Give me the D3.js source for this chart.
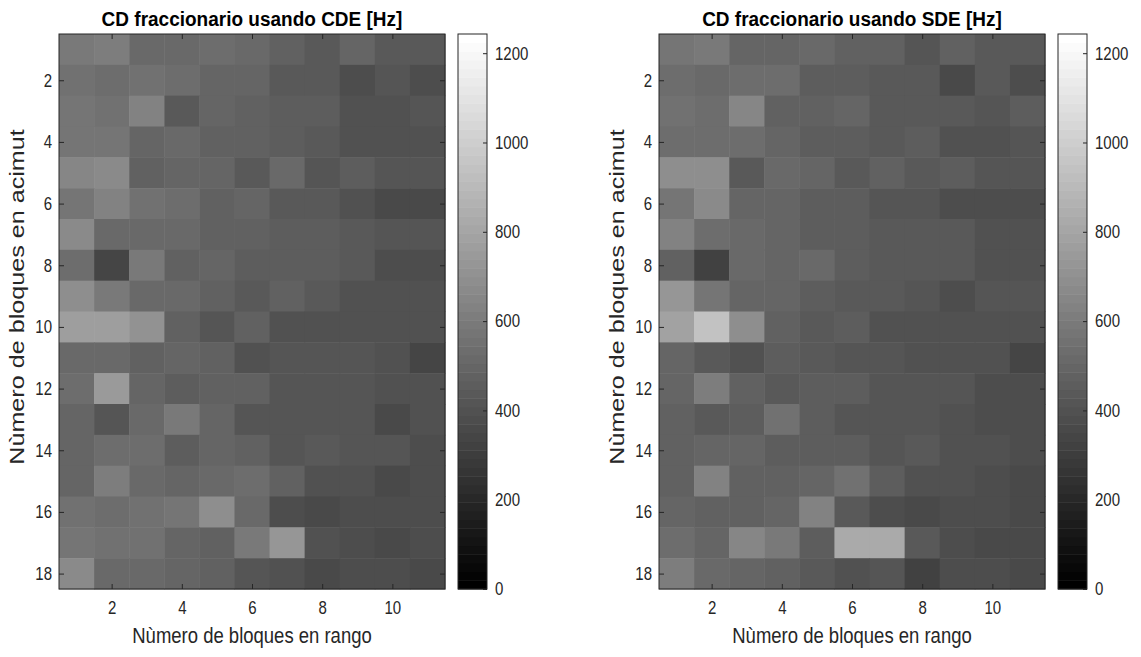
<!DOCTYPE html>
<html>
<head>
<meta charset="utf-8">
<script src="https://cdn.jsdelivr.net/npm/d3@7"></script>
<style>
  body { margin: 0; background: #fff; }
  text { font-family: "Liberation Sans", Arial, sans-serif; }
</style>
</head>
<body>
<svg id="chart" width="1141" height="657"></svg>
<script>
// columns = blocks in range, rows = blocks in azimuth
var cols = d3.range(1, 12);
var rows = d3.range(1, 19);
var xTicks = [2, 4, 6, 8, 10];
var yTicks = [2, 4, 6, 8, 10, 12, 14, 16, 18];
var cbTicks = [0, 200, 400, 600, 800, 1000, 1200];
var cMax = 1243;

var titles = ['CD fraccionario usando CDE [Hz]', 'CD fraccionario usando SDE [Hz]'];
var xLabel = 'Nùmero de bloques en rango';
var yLabel = 'Nùmero de bloques en acimut';

// CD fraccionario, CDE [Hz] (one row per azimuth block)
var cde = [
  [595, 605, 507, 507, 536, 507, 478, 429, 497, 429, 429],
  [546, 536, 556, 527, 488, 488, 439, 439, 371, 419, 380],
  [566, 556, 624, 439, 488, 478, 449, 458, 400, 400, 419],
  [566, 566, 497, 507, 478, 478, 458, 429, 400, 400, 400],
  [653, 663, 468, 497, 488, 429, 507, 419, 449, 410, 410],
  [566, 624, 546, 527, 468, 488, 439, 439, 390, 351, 361],
  [663, 507, 507, 517, 478, 478, 449, 449, 439, 410, 410],
  [536, 341, 595, 478, 497, 458, 449, 449, 429, 371, 371],
  [683, 595, 507, 517, 478, 439, 468, 439, 390, 390, 390],
  [761, 761, 702, 478, 419, 478, 400, 400, 400, 400, 400],
  [517, 517, 478, 488, 468, 390, 419, 419, 410, 400, 341],
  [527, 751, 497, 449, 478, 478, 419, 419, 419, 390, 400],
  [488, 419, 517, 585, 497, 410, 419, 419, 410, 351, 390],
  [497, 536, 536, 458, 488, 478, 419, 429, 410, 419, 380],
  [497, 614, 517, 497, 507, 527, 478, 390, 390, 361, 371],
  [556, 536, 546, 566, 692, 507, 371, 361, 371, 380, 371],
  [566, 556, 556, 488, 478, 585, 722, 400, 380, 351, 371],
  [663, 517, 507, 497, 468, 410, 390, 361, 371, 371, 351]
];

// CD fraccionario, SDE [Hz]
var sde = [
  [566, 595, 488, 497, 517, 478, 468, 419, 478, 429, 429],
  [527, 517, 527, 527, 458, 458, 429, 429, 361, 429, 380],
  [546, 527, 653, 478, 468, 497, 439, 439, 429, 419, 449],
  [536, 536, 527, 497, 458, 458, 439, 458, 390, 400, 410],
  [683, 692, 439, 517, 488, 429, 468, 439, 449, 410, 410],
  [566, 673, 497, 497, 449, 449, 419, 419, 380, 371, 371],
  [634, 527, 507, 497, 458, 458, 429, 429, 429, 400, 400],
  [478, 322, 517, 488, 517, 449, 429, 429, 429, 400, 400],
  [731, 566, 497, 497, 449, 439, 439, 419, 380, 410, 410],
  [790, 936, 683, 478, 429, 449, 390, 390, 390, 390, 400],
  [497, 439, 390, 449, 439, 410, 410, 390, 390, 390, 332],
  [497, 614, 468, 439, 458, 449, 419, 419, 419, 380, 380],
  [468, 429, 458, 556, 458, 419, 410, 410, 390, 371, 380],
  [468, 497, 497, 458, 449, 449, 419, 439, 400, 400, 371],
  [478, 624, 478, 478, 488, 546, 458, 390, 390, 371, 361],
  [497, 478, 478, 497, 634, 429, 371, 351, 380, 380, 361],
  [527, 497, 644, 595, 449, 819, 829, 429, 380, 351, 361],
  [614, 517, 488, 478, 439, 390, 410, 322, 380, 380, 361]
];

var svg = d3.select('#chart');
var yTop = 34, yBot = 589, w = 386;
var ink = '#262626';
var stretch = 1.22; // the figure was saved taller than wide, text looks stretched

// matlab gray(64)
var grays = d3.range(64).map((i) => d3.interpolateRgb('#000', '#fff')(i / 63));
var color = d3.scaleQuantize().domain([0, cMax]).range(grays);

var y = d3.scaleLinear().domain([0.5, 18.5]).range([yTop, yBot]);
var cb = d3.scaleLinear().domain([0, cMax]).range([yBot, yTop]);

var panel = (data, x0, title) => {
  let x = d3.scaleLinear().domain([0.5, 11.5]).range([x0, x0 + w]);
  let g = svg.append('g');

  let cells = [];
  data.forEach((r, i) => r.forEach((v, j) => cells.push({ c: cols[j], r: rows[i], v: v })));

  g.selectAll('rect.cell')
    .data(cells)
    .enter().append('rect')
    .attr('class', 'cell')
    .attr('x', (d) => x(d.c - 0.5))
    .attr('y', (d) => y(d.r - 0.5))
    .attr('width', (d) => x(d.c + 0.5) - x(d.c - 0.5) + 0.5)
    .attr('height', (d) => y(d.r + 0.5) - y(d.r - 0.5) + 0.5)
    .attr('fill', (d) => color(d.v));

  let ax = (gen, tr) => {
    let a = g.append('g').attr('transform', tr).call(gen);
    a.select('.domain').remove();
    a.selectAll('line').attr('stroke', ink);
    a.selectAll('text')
      .attr('fill', ink)
      .attr('transform', `scale(1,${ stretch })`)
      .style('font-size', '15px');
    return a;
  };

  ax(d3.axisBottom(x).tickValues(xTicks).tickSizeInner(-5).tickSizeOuter(0).tickPadding(10), `translate(0,${ yBot })`);
  ax(d3.axisTop(x).tickValues(xTicks).tickSizeInner(-5).tickSizeOuter(0).tickFormat(''), `translate(0,${ yTop })`);
  ax(d3.axisLeft(y).tickValues(yTicks).tickSizeInner(-5).tickSizeOuter(0).tickPadding(7), `translate(${ x0 },0)`);
  ax(d3.axisRight(y).tickValues(yTicks).tickSizeInner(-5).tickSizeOuter(0).tickFormat(''), `translate(${ x0 + w },0)`);

  g.append('rect')
    .attr('x', x0).attr('y', yTop)
    .attr('width', w).attr('height', yBot - yTop)
    .attr('fill', 'none').attr('stroke', ink).attr('stroke-width', 1);

  g.append('text')
    .attr('transform', `translate(${ x0 + w / 2 },26) scale(1,1.1)`)
    .attr('text-anchor', 'middle')
    .style('font-size', '19px').style('font-weight', 'bold')
    .attr('fill', '#000')
    .text(title);

  g.append('text')
    .attr('transform', `translate(${ x0 + w / 2 },643) scale(1,${ stretch })`)
    .attr('text-anchor', 'middle')
    .style('font-size', '18.5px')
    .attr('fill', ink)
    .text(xLabel);

  g.append('text')
    .attr('transform', `translate(${ x0 - 35 },297) rotate(-90) scale(1.29,1)`)
    .attr('text-anchor', 'middle')
    .style('font-size', '19.5px')
    .attr('fill', ink)
    .text(yLabel);

  // colorbar
  let cx = x0 + w + 13, cw = 29;
  g.selectAll('rect.band')
    .data(grays)
    .enter().append('rect')
    .attr('class', 'band')
    .attr('x', cx)
    .attr('y', (d) => cb(color.invertExtent(d)[1]))
    .attr('width', cw)
    .attr('height', (d) => cb(color.invertExtent(d)[0]) - cb(color.invertExtent(d)[1]) + 0.5)
    .attr('fill', (d) => d);

  ax(d3.axisRight(cb).tickValues(cbTicks).tickFormat(d3.format('d')).tickSizeInner(-4).tickSizeOuter(0).tickPadding(8), `translate(${ cx + cw },0)`);

  g.append('rect')
    .attr('x', cx).attr('y', yTop)
    .attr('width', cw).attr('height', yBot - yTop)
    .attr('fill', 'none').attr('stroke', ink).attr('stroke-width', 1);
};

panel(cde, 59, titles[0]);
panel(sde, 659, titles[1]);
</script>
</body>
</html>
